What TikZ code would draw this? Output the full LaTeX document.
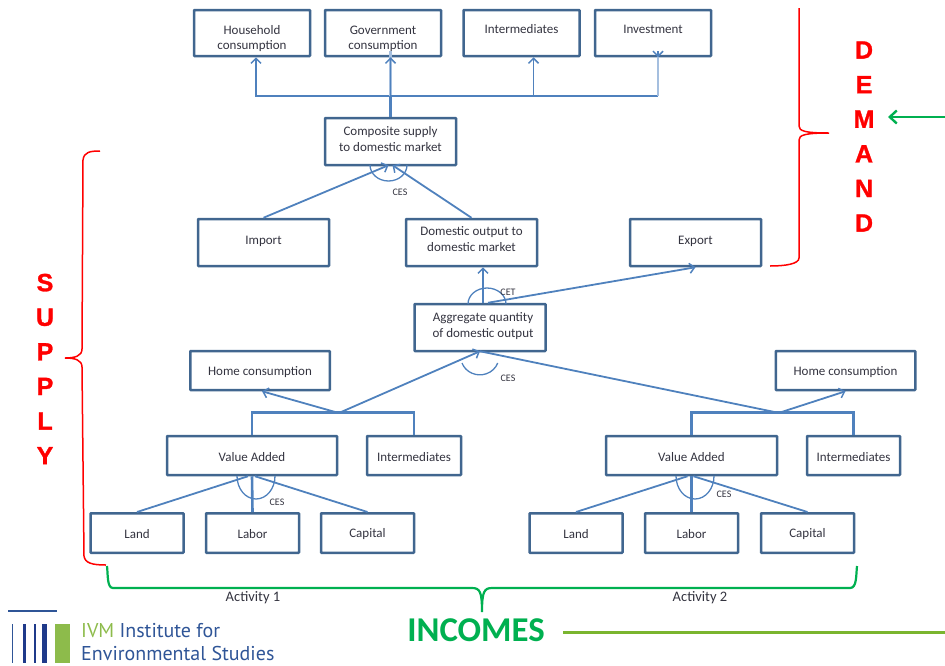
\documentclass[tikz,border=0pt]{standalone}
\usepackage{fontspec}
\setmainfont{Carlito}
\newfontfamily\lsfont[BoldFeatures={FakeBold=1.2}]{Liberation Sans}
\newfontfamily\logofont{PT Sans}
\usetikzlibrary{arrows.meta,calc}
\definecolor{boxc}{HTML}{41668F}
\definecolor{linec}{HTML}{4F81BD}
\definecolor{palec}{HTML}{A5BFDF}
\definecolor{txtc}{HTML}{33333F}
\definecolor{redc}{HTML}{FF0000}
\definecolor{grn}{HTML}{00B050}
\definecolor{olive}{HTML}{7AB52F}
\definecolor{navy}{HTML}{2F5597}
\definecolor{deepnavy}{HTML}{1F3A8A}
\definecolor{ivmg}{HTML}{8DBB4B}
% move the text of a box down (\dnt) or up (\upt) by #1 pt
\newcommand\dnt[1]{\rule{0pt}{\dimexpr 8pt+#1pt+#1pt\relax}}
\newcommand\upt[1]{\rule[\dimexpr -3pt-#1pt-#1pt\relax]{0pt}{1pt}}
\tikzset{
  bx/.style={draw=boxc,line width=2.5pt,rounded corners=0.6pt,inner sep=0pt,align=center,text=txtc,
    font=\fontsize{13}{15.7}\selectfont},
  bxa/.style={bx,minimum width=116pt,minimum height=46pt},
  bxb/.style={bx,minimum width=131pt,minimum height=47pt},
  bxc/.style={bx,minimum width=93pt,minimum height=39.5pt},
  bxd/.style={bx,minimum width=139.5pt,minimum height=39pt},
  bxe/.style={bx,minimum width=170pt,minimum height=39pt},
  link/.style={draw=linec,line width=1.8pt},
  thick link/.style={draw=linec,line width=2.6pt},
  pale link/.style={draw=palec,line width=2.4pt},
  arr/.style={link,-{Straight Barb[length=5pt,width=10pt,line width=1.5pt]}},
  arcl/.style={draw=linec,line width=1.3pt},
  small/.style={inner sep=0pt,text=txtc,font=\fontsize{10}{12}\selectfont},
  act/.style={inner sep=0pt,text=txtc,font=\fontsize{14.5}{16}\selectfont},
  bigl/.style={inner sep=0pt,align=center,text=redc,font=\lsfont\bfseries\fontsize{25}{34.6}\selectfont},
  redb/.style={draw=redc,line width=1.5pt},
  grnb/.style={draw=grn,line width=2.2pt},
}
\begin{document}
\begin{tikzpicture}[x=1pt,y=-1pt]
\useasboundingbox (0,0) rectangle (945,665);
% boxes
\node[bxa] (hh) at (252,33) {\dnt{6}Household\\consumption};
\node[bxa] (gov) at (383,33) {\dnt{6}Government\\consumption};
\node[bxa] (int) at (521.5,33) {\upt{2.5}Intermediates};
\node[bxa] (inv) at (653,33) {\upt{2.5}Investment};
\node[bxb] (comp) at (390.5,141.5) {Composite supply\\to domestic market\upt{1}};
\node[bxb] (imp) at (263.5,242.5) {Import\upt{1}};
\node[bxb] (dom) at (471.5,242.5) {Domestic output to\\domestic market\upt{2}};
\node[bxb] (exp) at (695.5,242.5) {Export\upt{1}};
\node[bxb] (agg) at (480,327.5) {\hspace*{6pt}Aggregate quantity\\\hspace*{6pt}of domestic output\upt{1}};
\node[bxd] (home1) at (260,370.5) {\dnt{1.7}Home consumption};
\node[bxd] (home2) at (845.5,370.5) {\dnt{1.7}Home consumption};
\node[bxe] (va1) at (252,455.5) {\dnt{1.7}Value Added};
\node[bxe,minimum width=171pt] (va2) at (691.5,455.5) {\dnt{1.7}Value Added};
\node[bxc,minimum width=94pt,minimum height=39pt] (int1) at (414,455.5) {\dnt{1.7}Intermediates};
\node[bxc,minimum height=39pt] (int2) at (853.5,455.5) {\dnt{1.7}Intermediates};
\node[bxc] (land1) at (137,533) {\dnt{1.7}Land};
\node[bxc] (lab1) at (252.5,533) {\dnt{1.7}Labor};
\node[bxc] (cap1) at (367.5,533) {\dnt{1.7}Capital};
\node[bxc] (land2) at (576,533) {\dnt{1.7}Land};
\node[bxc] (lab2) at (691.5,533) {\dnt{1.7}Labor};
\node[bxc] (cap2) at (807.5,533) {\dnt{1.7}Capital};
% top bus
\coordinate (busj) at (391,96);
\draw[thick link] (comp.north) -- (comp.north |- busj);
\draw[link] ([xshift=4pt]hh.south |- busj) -- ([xshift=5pt]inv.south |- busj);
\draw[arr] (comp.north |- busj) -| ([xshift=4pt]hh.south);
\draw[pale link] (comp.north |- busj) -- ([xshift=7.5pt,yshift=6pt]gov.south);
\draw[arr] (comp.north |- busj) -- ([xshift=7.5pt]gov.south);
\draw[arr] (comp.north |- busj) -| ([xshift=12pt]int.south);
\draw[pale link] ([xshift=5pt]inv.south |- busj) -- ([xshift=5pt,yshift=6pt]inv.south);
\draw[arr,draw=linec] ([xshift=5pt,yshift=6pt]inv.south) -- ([xshift=5pt]inv.south);
% composite inputs
\draw[arr] (imp.north) -- ([xshift=-2pt,yshift=1pt]comp.south);
\draw[arr] (dom.north) -- ([xshift=2pt,yshift=1pt]comp.south);
\draw[arcl] (370,165) arc[start angle=180,end angle=0,x radius=18.5,y radius=16];
\node[small] (ces0) at (400,192) {CES};
% aggregate outputs
\draw[arr] ([xshift=3pt]agg.north) -- ([xshift=11.5pt]dom.south);
\draw[arr] ([xshift=8pt]agg.north) -- (exp.south);
\draw[arcl] (468,304) arc[start angle=180,end angle=360,x radius=19,y radius=16];
\node[small] (cet) at (508,292) {CET};
% activity buses
\coordinate (j1) at (337,412.5);
\coordinate (j2) at (777,412.5);
\draw[thick link] (va1.north) |- (j1) -| (int1.north);
\draw[thick link] (va2.north) |- (j2) -| (int2.north);
\draw[arr] (j1) -- ([xshift=2pt]home1.south);
\draw[arr] ([xshift=3pt]j2) -- (home2.south);
\draw[arr] ([xshift=3pt]j1) -- ([yshift=1pt]agg.south);
\draw[link] ([yshift=1pt]agg.south) -- (j2);
\draw[arcl] (462,363) arc[start angle=160,end angle=20,x radius=19,y radius=18];
\node[small] (ces1) at (508,378) {CES};
% factors
\draw[thick link] (va1.south) -- (lab1.north);
\draw[link] ([xshift=-4pt]va1.south) -- (land1.north);
\draw[link] ([xshift=3pt]va1.south) -- (cap1.north);
\draw[arcl] (237,476) arc[start angle=180,end angle=0,x radius=19,y radius=23];
\node[small] (ces2) at (277,502) {CES};
\draw[thick link] (va2.south) -- (lab2.north);
\draw[link] ([xshift=-4pt]va2.south) -- (land2.north);
\draw[link] ([xshift=2pt]va2.south) -- (cap2.north);
\draw[arcl] (676,476) arc[start angle=180,end angle=0,x radius=19,y radius=23];
\node[small] (ces3) at (724,494) {CES};
% red braces
\draw[redb] (100,151) .. controls (90,151) and (84,152) .. (83,160) -- (82,349)
  .. controls (82,356) and (75,358) .. (65,358) .. controls (75,358) and (82,360) .. (82,367)
  -- (84,556) .. controls (85,563) and (92,565) .. (106,565);
\draw[redb] (799,8) -- (799,126) .. controls (799,131) and (805,133) .. (829,133)
  .. controls (805,133) and (799,135) .. (799,140) -- (799,258)
  .. controls (799,264) and (785,266) .. (770,266);
\node[bigl] (demand) at (864,136.5) {D\\E\\M\\A\\N\\D};
\node[bigl] (supply) at (45,369) {S\\U\\P\\P\\L\\Y};
% green
\coordinate (ge) at (945,117);
\coordinate (gt) at (888,117);
\draw[draw=grn,line width=2.8pt,-{Straight Barb[length=7pt,width=13pt,line width=2.4pt]}] (ge) -- (gt);
\draw[grnb] (107,566) .. controls (108,575) and (107,588) .. (113,588) -- (472,588)
  .. controls (480,588) and (482,592) .. (482,612)
  .. controls (482,592) and (484,588) .. (492,588) -- (850,588)
  .. controls (857,588) and (856,575) .. (857,566);
\node[act] (a1) at (253,598) {Activity 1};
\node[act] (a2) at (700,598) {Activity 2};
\node[inner sep=0pt,text=grn,font=\bfseries\fontsize{34.8}{36}\selectfont] (inc) at (476,630) {INCOMES};
\coordinate (oe) at (945,632);
\coordinate (os) at (563,632);
\draw[draw=olive,line width=3pt] (os) -- (oe);
% logo
\draw[draw=navy,line width=1.2pt] (8,611) -- (57,611);
\fill[navy] (12,624) rectangle (13.2,663);
\fill[deepnavy] (23,624) rectangle (26,663);
\fill[deepnavy] (34,624) rectangle (36,663);
\fill[deepnavy] (42,624) rectangle (47,663);
\fill[ivmg] (55,624) rectangle (70,663);
\node[anchor=base west,inner sep=0pt,font=\logofont\fontsize{20}{25}\selectfont,text=navy] (logo1) at (81,637)
  {\textcolor{ivmg}{IVM} Institute for};
\node[anchor=base west,inner sep=0pt,font=\logofont\fontsize{20}{25}\selectfont,text=navy] (logo2) at (81,660)
  {Environmental Studies};
\end{tikzpicture}
\end{document}
